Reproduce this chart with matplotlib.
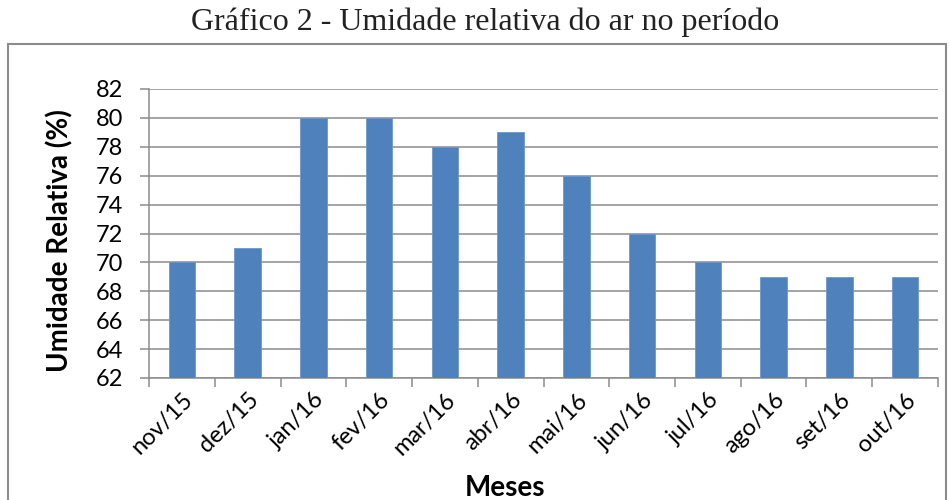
import matplotlib.pyplot as plt
from matplotlib.patches import Rectangle

meses = ['nov/15', 'dez/15', 'jan/16', 'fev/16', 'mar/16', 'abr/16',
         'mai/16', 'jun/16', 'jul/16', 'ago/16', 'set/16', 'out/16']
umidade = [70, 71, 80, 80, 78, 79, 76, 72, 70, 69, 69, 69]
yticks = list(range(62, 83, 2))

plt.rcParams['font.family'] = ['Lato', 'DejaVu Sans']

fig = plt.figure(figsize=(9.49, 5.0), dpi=100)
ax = fig.add_axes([149/949, 1-378/500, (938-149)/949, (378-89)/500])

x = list(range(len(meses)))
ax.bar(x, umidade, width=0.4, color='#4F81BD', edgecolor='#6C97CC', linewidth=0.6, zorder=3)

ax.set_ylim(62, 82)
ax.set_xlim(-0.5, len(meses) - 0.5)
ax.set_yticks(yticks)
ax.set_yticklabels([str(v) for v in yticks], fontsize=17)
ax.yaxis.grid(True, color='#8c8c8c', linewidth=1.1, zorder=0)
ax.set_axisbelow(True)

ax.set_xticks([i - 0.5 for i in range(len(meses) + 1)], minor=False)
ax.set_xticklabels([''] * (len(meses) + 1))
ax.set_xticks(x, minor=True)
ax.set_xticklabels(meses, minor=True, rotation=45, ha='right', va='top',
                   rotation_mode='anchor', fontsize=17)
ax.tick_params(axis='x', which='minor', length=0, pad=8)
ax.tick_params(axis='x', which='major', length=6.5, color='#8c8c8c', width=1.1)
ax.tick_params(axis='y', length=6.5, color='#8c8c8c', width=1.1, pad=12)

for s in ['top', 'right']:
    ax.spines[s].set_visible(False)
for s in ['left', 'bottom']:
    ax.spines[s].set_color('#8c8c8c')
    ax.spines[s].set_linewidth(1.1)

fig.text(60/949, 1-241/500, 'Umidade Relativa (%)', rotation=90, ha='center', va='center',
         fontsize=20, fontweight='bold')
fig.text(505/949, 1-488/500, 'Meses', ha='center', va='center', fontsize=20, fontweight='bold')

fig.text(485/949, 1-22/500, 'Gráfico 2 - Umidade relativa do ar no período', ha='center',
         va='center', fontsize=23, family=['Liberation Serif', 'DejaVu Serif'], color='#222222')

box = Rectangle((8/949, -0.05), (946-8)/949, 1-44/500+0.05, transform=fig.transFigure,
                fill=False, edgecolor='#8c8c8c', linewidth=1.5)
fig.add_artist(box)

fig.savefig('out.png', dpi=100)
